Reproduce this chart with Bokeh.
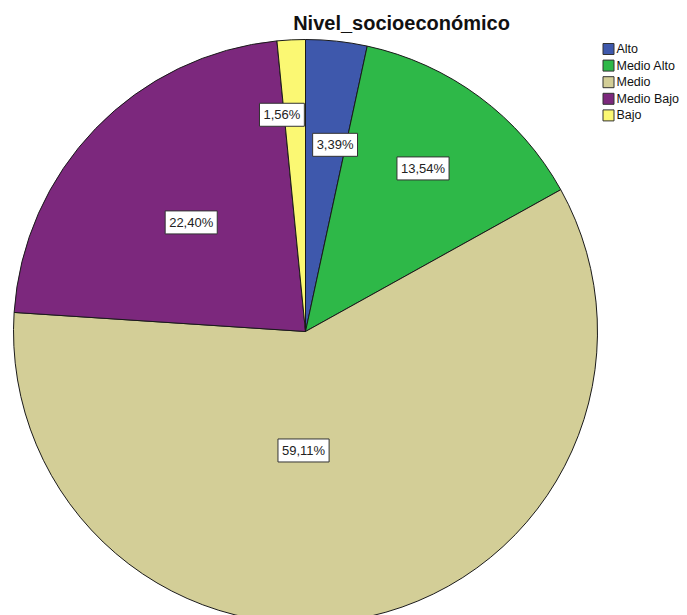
import math
from bokeh.plotting import figure
from bokeh.models import ColumnDataSource, Range1d
from bokeh.core.properties import value
from bokeh.embed import file_html
from bokeh.resources import INLINE

# ---- data ----
title = "Nivel_socioeconómico"
categories = ["Alto", "Medio Alto", "Medio", "Medio Bajo", "Bajo"]
percents = [3.39, 13.54, 59.11, 22.40, 1.56]
labels = ["3,39%", "13,54%", "59,11%", "22,40%", "1,56%"]

# ---- style ----
colors = ["#3E58AC", "#2EB848", "#D3CE97", "#7C287D", "#FBF873"]
R = 292
label_r = [189, 201, 119, 158, 218]
label_shift_deg = [2.9, -0.8, 13.6, -0.4, -3.4]
FONT = "Liberation Sans"

W, H = 687, 615
# data units = pixels, pie centre at origin
x0, y1 = -305, 331
p = figure(width=W, height=H, output_backend="svg", toolbar_location=None,
           x_range=Range1d(x0, x0 + W), y_range=Range1d(y1 - H, y1),
           min_border=0, outline_line_color=None)
p.axis.visible = False
p.grid.visible = False
p.background_fill_color = "white"
p.border_fill_color = "white"

total = sum(percents)
starts, ends, lx, ly = [], [], [], []
cum = 0.0
for i, v in enumerate(percents):
    f0 = cum / total
    cum += v
    f1 = cum / total
    starts.append(math.pi / 2 - 2 * math.pi * f0)
    ends.append(math.pi / 2 - 2 * math.pi * f1)
    mid = (f0 + f1) / 2 * 360 + label_shift_deg[i]
    a = math.radians(mid)
    lx.append(label_r[i] * math.sin(a))
    ly.append(label_r[i] * math.cos(a))

src = ColumnDataSource(dict(start=starts, end=ends, color=colors, cat=categories))
p.wedge(x=0, y=0, radius=R, start_angle="start", end_angle="end",
        direction="clock", fill_color="color", line_color="#1a1a1a",
        line_width=1, source=src)

lsrc = ColumnDataSource(dict(x=lx, y=ly, t=labels))
p.text(x="x", y="y", text="t", source=lsrc, text_align="center",
       text_baseline="middle", text_font=value(FONT), text_font_size="13px",
       text_color="#222222", background_fill_color="white",
       border_line_color="#333333", border_line_width=1, padding=4)

# title
p.text(x=[96], y=[309], text=[title], text_align="center",
       text_baseline="alphabetic", text_font=value(FONT),
       text_font_size="20px", text_font_style="bold", text_color="#111111")

# legend
lg_x = 303
lg_y = [331 - (48.5 + 16.6 * i) for i in range(len(categories))]
p.rect(x=[lg_x] * len(categories), y=lg_y, width=11, height=11,
       fill_color=colors, line_color="#333333", line_width=1)
p.text(x=[lg_x + 8] * len(categories), y=lg_y, text=categories,
       text_align="left", text_baseline="middle", text_font=value(FONT),
       text_font_size="12.5px", text_color="#111111")

open("out.html", "w").write(file_html(p, INLINE))
